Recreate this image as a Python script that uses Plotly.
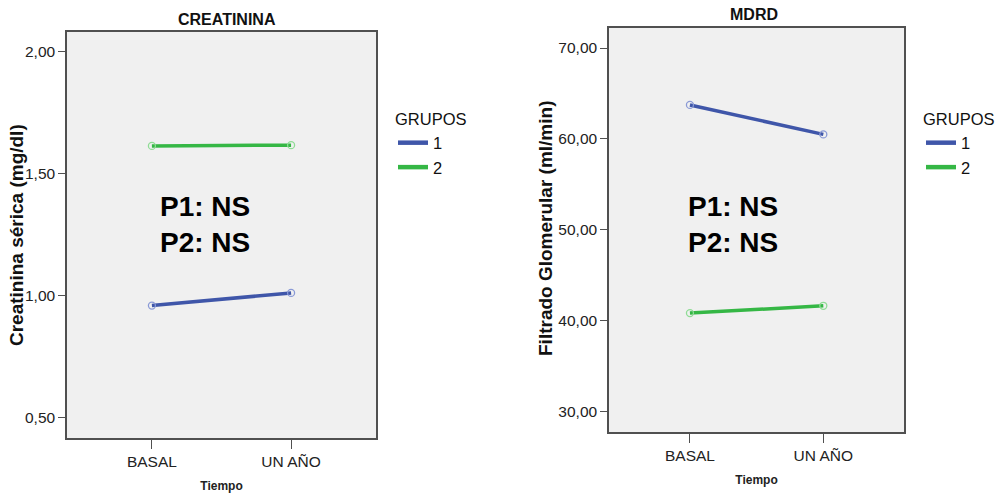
import plotly.graph_objects as go

# ---- data ----
tiempo = ["BASAL", "UN AÑO"]
grupos = ["1", "2"]
creat_g1 = [0.958, 1.010]
creat_g2 = [1.614, 1.617]
mdrd_g1 = [63.74, 60.50]
mdrd_g2 = [40.85, 41.65]
creat_ticks = [0.5, 1.0, 1.5, 2.0]
creat_ticklabels = ["0,50", "1,00", "1,50", "2,00"]
mdrd_ticks = [30, 40, 50, 60, 70]
mdrd_ticklabels = ["30,00", "40,00", "50,00", "60,00", "70,00"]

colors = {"1": "#3F56A9", "2": "#35B745"}
marker_line = {"1": "#8A9AD6", "2": "#8FDC95"}

W, H = 1001, 497
fig = go.Figure()

def add_series(y, name, xa, ya):
    fig.add_trace(go.Scatter(
        x=[0, 1], y=y, name=name, mode="lines+markers",
        xaxis=xa, yaxis=ya, showlegend=False,
        line=dict(color=colors[name], width=3.5),
        marker=dict(symbol="circle-open", size=7, color=marker_line[name],
                    line=dict(width=1.3, color=marker_line[name])),
    ))

add_series(creat_g1, "1", "x", "y")
add_series(creat_g2, "2", "x", "y")
add_series(mdrd_g1, "1", "x2", "y2")
add_series(mdrd_g2, "2", "x2", "y2")

# legend entries (line only, as in the reference)
for lg, xa, ya in [("legend", "x", "y"), ("legend2", "x2", "y2")]:
    for g in grupos:
        fig.add_trace(go.Scatter(x=[None], y=[None], name=g, mode="lines", xaxis=xa, yaxis=ya,
                                 legend=lg, showlegend=True,
                                 line=dict(color=colors[g], width=4.5)))

FONT = "Liberation Sans, Arial"
tickfont = dict(family=FONT, size=15.5, color="#222")
axis_common = dict(showgrid=False, zeroline=False, showline=True, linecolor="#505050", linewidth=1.5,
                   mirror=True, ticks="outside", tickcolor="#505050", tickwidth=1.3,
                   tickfont=tickfont)
xt_title = dict(text="<b>Tiempo</b>", font=dict(family=FONT, size=12, color="#222"), standoff=12)
leg_font = dict(family=FONT, size=16.5, color="#111")

fig.update_layout(
    width=W, height=H,
    margin=dict(l=0, r=0, t=0, b=0, autoexpand=False),
    paper_bgcolor="white", plot_bgcolor="#F0F0F0",
    xaxis=dict(domain=[67/W, 376/W], range=[-0.61, 1.61], tickvals=[0, 1], ticktext=tiempo,
               anchor="y", ticklen=9, title=xt_title, **axis_common),
    yaxis=dict(domain=[1-438/H, 1-32/H], range=[0.414, 2.082], tickvals=creat_ticks, ticktext=creat_ticklabels,
               anchor="x", ticklen=7, **axis_common),
    xaxis2=dict(domain=[609/W, 904/W], range=[-0.607, 1.605], tickvals=[0, 1], ticktext=tiempo,
                anchor="y2", ticklen=9, title=xt_title, **axis_common),
    yaxis2=dict(domain=[1-432/H, 1-28/H], range=[27.77, 72.2], tickvals=mdrd_ticks, ticktext=mdrd_ticklabels,
                anchor="x2", ticklen=7, **axis_common),
    legend=dict(x=393/W, y=1-104/H, xanchor="left", yanchor="top", bgcolor="rgba(0,0,0,0)",
                title=dict(text="GRUPOS", font=leg_font, side="top"),
                font=leg_font, itemwidth=30, tracegroupgap=0),
    legend2=dict(x=921/W, y=1-104/H, xanchor="left", yanchor="top", bgcolor="rgba(0,0,0,0)",
                 title=dict(text="GRUPOS", font=leg_font, side="top"),
                 font=leg_font, itemwidth=30, tracegroupgap=0),
    showlegend=True,
)

# titles
title_font = dict(family=FONT, size=16, color="#111")
fig.add_annotation(text="<b>CREATININA</b>", x=227/W, y=1-19/H, xref="paper", yref="paper",
                   showarrow=False, font=title_font, xanchor="center", yanchor="middle")
fig.add_annotation(text="<b>MDRD</b>", x=754/W, y=1-15/H, xref="paper", yref="paper",
                   showarrow=False, font=title_font, xanchor="center", yanchor="middle")

# y axis titles
yt_font = dict(family=FONT, size=19, color="#111")
fig.add_annotation(text="<b>Creatinina sérica (mg/dl)</b>", x=16/W, y=1-235/H, xref="paper", yref="paper",
                   showarrow=False, font=yt_font, textangle=-90, xanchor="center", yanchor="middle")
fig.add_annotation(text="<b>Filtrado Glomerular (ml/min)</b>", x=545/W, y=1-229/H, xref="paper", yref="paper",
                   showarrow=False, font=yt_font, textangle=-90, xanchor="center", yanchor="middle")

pfont = dict(family=FONT, size=28, color="#000")
fig.add_annotation(text="<b>P1: NS<br>P2: NS</b>", x=158/W, y=1-225/H, xref="paper", yref="paper",
                   showarrow=False, font=pfont, xanchor="left", yanchor="middle", align="left")
fig.add_annotation(text="<b>P1: NS<br>P2: NS</b>", x=686/W, y=1-225/H, xref="paper", yref="paper",
                   showarrow=False, font=pfont, xanchor="left", yanchor="middle", align="left")

fig.write_html("out.html")
